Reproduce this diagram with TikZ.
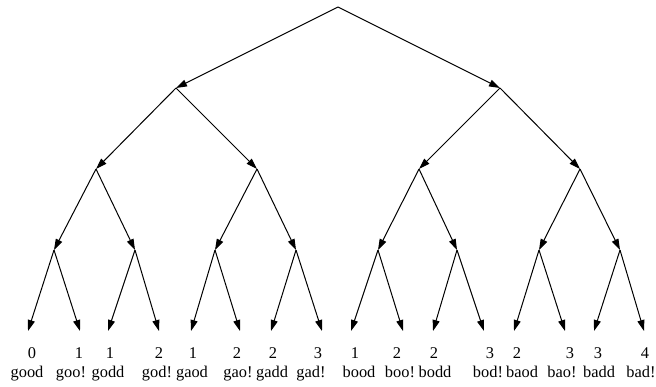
\documentclass[tikz,border=0pt]{standalone}
\usepackage{fontspec}
\setmainfont{Liberation Serif}
\usetikzlibrary{arrows.meta}
\begin{document}
\begin{tikzpicture}[x=0.5pt,y=-0.5pt,
  edge/.style={draw=black,line width=0.5pt,-{Triangle[length=5.5pt,width=3.5pt]}},
  lbl/.style={font=\fontsize{8.2}{10}\selectfont,anchor=base,inner sep=0pt}]
\useasboundingbox (0,0) rectangle (656,386);
% internal nodes
\coordinate (r) at (338,7);
\coordinate (a1) at (176,88);
\coordinate (a2) at (500,88);
\coordinate (b1) at (96,169);
\coordinate (b2) at (257,169);
\coordinate (b3) at (419,169);
\coordinate (b4) at (580,169);
\coordinate (c1) at (54,250);
\coordinate (c2) at (135,250);
\coordinate (c3) at (215,250);
\coordinate (c4) at (296,250);
\coordinate (c5) at (378,250);
\coordinate (c6) at (457,250);
\coordinate (c7) at (539,250);
\coordinate (c8) at (620,250);
% leaves
\foreach \i/\x in {1/28,2/80,3/108,4/159,5/191,6/240,7/271,8/322,9/351,10/403,11/433,12/484,13/514,14/565,15/594,16/644}
  \coordinate (l\i) at (\x,331);
% edges
\draw[edge] (r) -- (a1);
\draw[edge] (r) -- (a2);
\draw[edge] (a1) -- (b1);
\draw[edge] (a1) -- (b2);
\draw[edge] (a2) -- (b3);
\draw[edge] (a2) -- (b4);
\draw[edge] (b1) -- (c1);
\draw[edge] (b1) -- (c2);
\draw[edge] (b2) -- (c3);
\draw[edge] (b2) -- (c4);
\draw[edge] (b3) -- (c5);
\draw[edge] (b3) -- (c6);
\draw[edge] (b4) -- (c7);
\draw[edge] (b4) -- (c8);
\draw[edge] (c1) -- (l1);
\draw[edge] (c1) -- (l2);
\draw[edge] (c2) -- (l3);
\draw[edge] (c2) -- (l4);
\draw[edge] (c3) -- (l5);
\draw[edge] (c3) -- (l6);
\draw[edge] (c4) -- (l7);
\draw[edge] (c4) -- (l8);
\draw[edge] (c5) -- (l9);
\draw[edge] (c5) -- (l10);
\draw[edge] (c6) -- (l11);
\draw[edge] (c6) -- (l12);
\draw[edge] (c7) -- (l13);
\draw[edge] (c7) -- (l14);
\draw[edge] (c8) -- (l15);
\draw[edge] (c8) -- (l16);
% labels
\foreach \i/\nx/\n/\wx/\w in {1/32/0/27/good,2/79/1/71/goo!,3/110/1/108/godd,4/159/2/157/god!,
  5/193/1/192/gaod,6/237/2/238/gao!,7/273/2/272/gadd,8/318/3/311/gad!,
  9/355/1/359/bood,10/397/2/400/boo!,11/434/2/435/bodd,12/490/3/488/bod!,
  13/517/2/522/baod,14/570/3/562/bao!,15/598/3/599/badd,16/645/4/641/bad!}{
  \node[lbl] (n\i) at (\nx,358) {\n};
  \node[lbl] (w\i) at (\wx,377) {\w};
}
\end{tikzpicture}
\end{document}
